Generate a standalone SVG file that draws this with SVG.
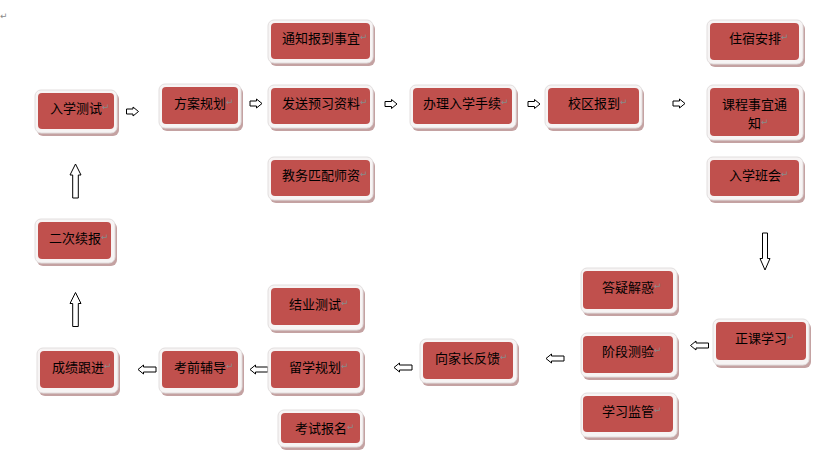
<svg xmlns="http://www.w3.org/2000/svg" width="825" height="455" viewBox="0 0 825 455">
<defs>
<style>
.sh{fill:#c4a2a2}
.fr{fill:#f7f4f4;stroke:#e2dede;stroke-width:1}
.bx{fill:#c0504d}
.t{font-family:"Noto Sans CJK SC","Noto Sans CJK JP",sans-serif;font-size:13px;fill:#000;dominant-baseline:central}
.pm{font-family:"DejaVu Sans",sans-serif;font-size:9px;fill:#8a8a8a}
.ar{fill:#fff;stroke:#000;stroke-width:1}
</style>
<path id="rs" d="M-6,-2.5 H0.5 V-4.5 L6,0 L0.5,4.5 V2.5 H-6 Z"/>
<path id="ls" d="M9,-2.5 H-3.5 V-4.5 L-9,0 L-3.5,4.5 V2.5 H9 Z"/>
<path id="up" d="M-2.8,17 V-6 H-5.5 L0,-17 L5.5,-6 H2.8 V17 Z"/>
<path id="dn" d="M-2.5,-18.5 V7 H-5 L0,18.5 L5,7 H2.5 V-18.5 Z"/>
</defs>
<rect width="825" height="455" fill="#fff"/>
<text x="0" y="19" class="pm" font-size="10">↵</text>

<g id="connectors">
<use href="#rs" class="ar" x="132.5" y="111.5"/>
<use href="#rs" class="ar" x="256" y="103.5"/>
<use href="#rs" class="ar" x="391" y="104"/>
<use href="#rs" class="ar" x="534" y="104"/>
<use href="#rs" class="ar" x="679" y="103.5"/>
<use href="#dn" class="ar" x="765" y="251.5"/>
<use href="#ls" class="ar" x="699.5" y="345.5"/>
<use href="#ls" class="ar" x="555" y="358.5"/>
<use href="#ls" class="ar" x="403" y="367.5"/>
<use href="#ls" class="ar" x="259" y="369.5"/>
<use href="#ls" class="ar" x="147" y="369.5"/>
<use href="#up" class="ar" x="75.5" y="309.5"/>
<use href="#up" class="ar" x="75.5" y="181"/>
</g>

<g id="n-rxcs">
<rect class="sh" x="37" y="93" width="82" height="43" rx="6"/>
<rect class="fr" x="35" y="90" width="82" height="43" rx="6"/>
<rect class="bx" x="38" y="93" width="76" height="36" rx="4"/>
<text class="t" x="50" y="107">入学测试<tspan class="pm">↵</tspan></text>
</g>
<g id="n-fagh">
<rect class="sh" x="161" y="87" width="82" height="44" rx="6"/>
<rect class="fr" x="159" y="84" width="82" height="44" rx="6"/>
<rect class="bx" x="162" y="87" width="76" height="37" rx="4"/>
<text class="t" x="174" y="102">方案规划<tspan class="pm">↵</tspan></text>
</g>
<g id="n-tzbd">
<rect class="sh" x="270" y="23" width="105" height="43" rx="6"/>
<rect class="fr" x="268" y="20" width="105" height="43" rx="6"/>
<rect class="bx" x="271" y="23" width="99" height="36" rx="4"/>
<text class="t" x="282" y="37">通知报到事宜<tspan class="pm">↵</tspan></text>
</g>
<g id="n-fsyx">
<rect class="sh" x="270" y="88" width="105" height="43" rx="6"/>
<rect class="fr" x="268" y="85" width="105" height="43" rx="6"/>
<rect class="bx" x="271" y="88" width="99" height="36" rx="4"/>
<text class="t" x="282" y="102">发送预习资料<tspan class="pm">↵</tspan></text>
</g>
<g id="n-jwpp">
<rect class="sh" x="270" y="160" width="105" height="43" rx="6"/>
<rect class="fr" x="268" y="157" width="105" height="43" rx="6"/>
<rect class="bx" x="271" y="160" width="99" height="36" rx="4"/>
<text class="t" x="282" y="174">教务匹配师资<tspan class="pm">↵</tspan></text>
</g>
<g id="n-blrx">
<rect class="sh" x="412" y="88" width="106" height="43" rx="6"/>
<rect class="fr" x="410" y="85" width="106" height="43" rx="6"/>
<rect class="bx" x="413" y="88" width="99" height="36" rx="4"/>
<text class="t" x="423" y="102">办理入学手续<tspan class="pm">↵</tspan></text>
</g>
<g id="n-xqbd">
<rect class="sh" x="547" y="88" width="97" height="43" rx="6"/>
<rect class="fr" x="545" y="85" width="97" height="43" rx="6"/>
<rect class="bx" x="548" y="88" width="91" height="36" rx="4"/>
<text class="t" x="568" y="102">校区报到<tspan class="pm">↵</tspan></text>
</g>
<g id="n-zsap">
<rect class="sh" x="709" y="23" width="96" height="44" rx="6"/>
<rect class="fr" x="707" y="20" width="96" height="44" rx="6"/>
<rect class="bx" x="710" y="23" width="89" height="37" rx="4"/>
<text class="t" x="729" y="37">住宿安排<tspan class="pm">↵</tspan></text>
</g>
<g id="n-kcsy">
<rect class="sh" x="709" y="88" width="96" height="55" rx="6"/>
<rect class="fr" x="707" y="85" width="96" height="55" rx="6"/>
<rect class="bx" x="710" y="88" width="89" height="48" rx="4"/>
<text class="t" x="722" y="103">课程事宜通</text>
<text class="t" x="748" y="122">知<tspan class="pm">↵</tspan></text>
</g>
<g id="n-rxbh">
<rect class="sh" x="709" y="160" width="96" height="43" rx="6"/>
<rect class="fr" x="707" y="157" width="96" height="43" rx="6"/>
<rect class="bx" x="710" y="160" width="89" height="36" rx="4"/>
<text class="t" x="729" y="174">入学班会<tspan class="pm">↵</tspan></text>
</g>
<g id="n-ecxb">
<rect class="sh" x="37" y="222" width="80" height="44" rx="6"/>
<rect class="fr" x="35" y="219" width="80" height="44" rx="6"/>
<rect class="bx" x="38" y="222" width="73" height="37" rx="4"/>
<text class="t" x="49" y="237">二次续报<tspan class="pm">↵</tspan></text>
</g>
<g id="n-zkxx">
<rect class="sh" x="715" y="322" width="96" height="46" rx="6"/>
<rect class="fr" x="713" y="319" width="96" height="46" rx="6"/>
<rect class="bx" x="716" y="322" width="90" height="38" rx="4"/>
<text class="t" x="735" y="337">正课学习<tspan class="pm">↵</tspan></text>
</g>
<g id="n-dyjh">
<rect class="sh" x="583" y="271" width="96" height="45" rx="6"/>
<rect class="fr" x="581" y="268" width="96" height="45" rx="6"/>
<rect class="bx" x="583" y="271" width="90" height="38" rx="4"/>
<text class="t" x="602" y="286">答疑解惑<tspan class="pm">↵</tspan></text>
</g>
<g id="n-jdcy">
<rect class="sh" x="583" y="336" width="96" height="44" rx="6"/>
<rect class="fr" x="581" y="333" width="96" height="44" rx="6"/>
<rect class="bx" x="583" y="336" width="90" height="37" rx="4"/>
<text class="t" x="602" y="350">阶段测验<tspan class="pm">↵</tspan></text>
</g>
<g id="n-xxjg">
<rect class="sh" x="583" y="396" width="96" height="44" rx="6"/>
<rect class="fr" x="581" y="393" width="96" height="44" rx="6"/>
<rect class="bx" x="583" y="396" width="90" height="36" rx="4"/>
<text class="t" x="602" y="410">学习监管<tspan class="pm">↵</tspan></text>
</g>
<g id="n-xjzfk">
<rect class="sh" x="422" y="342" width="97" height="44" rx="6"/>
<rect class="fr" x="420" y="339" width="97" height="44" rx="6"/>
<rect class="bx" x="423" y="342" width="90" height="37" rx="4"/>
<text class="t" x="435" y="357">向家长反馈<tspan class="pm">↵</tspan></text>
</g>
<g id="n-jycs">
<rect class="sh" x="270" y="288" width="95" height="45" rx="6"/>
<rect class="fr" x="268" y="285" width="95" height="45" rx="6"/>
<rect class="bx" x="271" y="288" width="89" height="37" rx="4"/>
<text class="t" x="289" y="303">结业测试<tspan class="pm">↵</tspan></text>
</g>
<g id="n-lxgh">
<rect class="sh" x="270" y="351" width="95" height="45" rx="6"/>
<rect class="fr" x="268" y="348" width="95" height="45" rx="6"/>
<rect class="bx" x="271" y="351" width="89" height="37" rx="4"/>
<text class="t" x="289" y="366">留学规划<tspan class="pm">↵</tspan></text>
</g>
<g id="n-ksbm">
<rect class="sh" x="280" y="413" width="85" height="37" rx="6"/>
<rect class="fr" x="278" y="410" width="85" height="37" rx="6"/>
<rect class="bx" x="281" y="413" width="79" height="30" rx="4"/>
<text class="t" x="295" y="427">考试报名<tspan class="pm">↵</tspan></text>
</g>
<g id="n-kqfd">
<rect class="sh" x="161" y="351" width="83" height="45" rx="6"/>
<rect class="fr" x="159" y="348" width="83" height="45" rx="6"/>
<rect class="bx" x="162" y="351" width="76" height="37" rx="4"/>
<text class="t" x="174" y="366">考前辅导<tspan class="pm">↵</tspan></text>
</g>
<g id="n-cjgj">
<rect class="sh" x="39" y="351" width="81" height="45" rx="6"/>
<rect class="fr" x="37" y="348" width="81" height="45" rx="6"/>
<rect class="bx" x="40" y="351" width="74" height="37" rx="4"/>
<text class="t" x="52" y="366">成绩跟进<tspan class="pm">↵</tspan></text>
</g>
</svg>
